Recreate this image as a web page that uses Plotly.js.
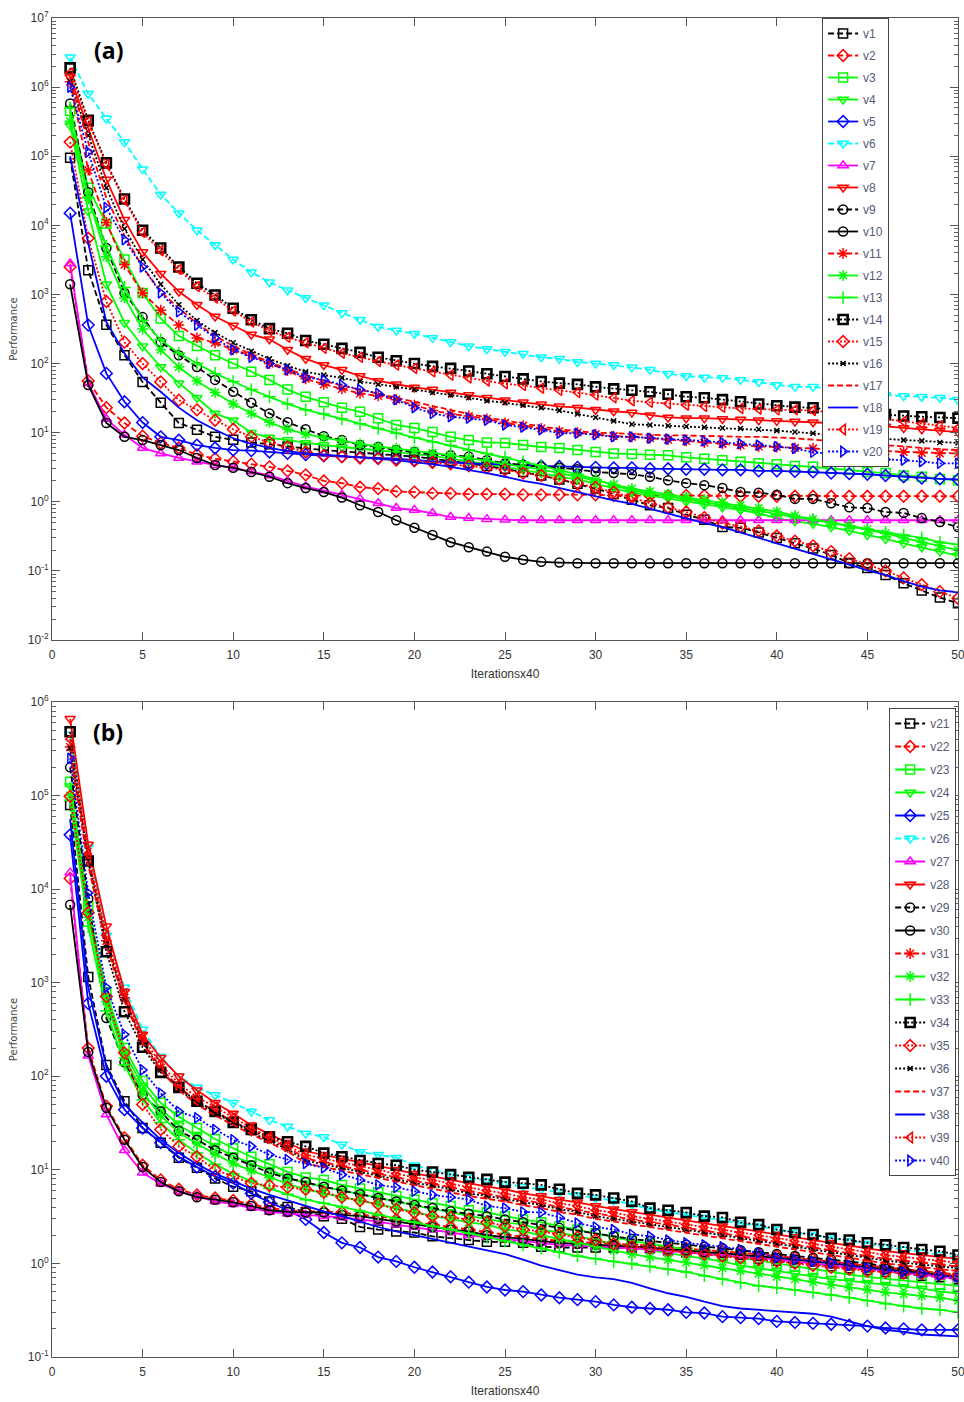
<!DOCTYPE html>
<html><head><meta charset="utf-8">
<script src="https://cdn.plot.ly/plotly-3.0.1.min.js"></script>
<style>html,body{margin:0;padding:0;background:#fff}#chart{width:964px;height:1402px}</style>
</head><body><div id="chart"></div>
<script>
const iterations = [1,2,3,4,5,6,7,8,9,10,11,12,13,14,15,16,17,18,19,20,21,22,23,24,25,26,27,28,29,30,31,32,33,34,35,36,37,38,39,40,41,42,43,44,45,46,47,48,49,50];
const xTicks = [0,5,10,15,20,25,30,35,40,45,50];
const yTicksTop = [1e-2,1e-1,1,10,100,1e3,1e4,1e5,1e6,1e7];
const yTickTextTop = ['10<sup>-2</sup>','10<sup>-1</sup>','10<sup>0</sup>','10<sup>1</sup>','10<sup>2</sup>','10<sup>3</sup>','10<sup>4</sup>','10<sup>5</sup>','10<sup>6</sup>','10<sup>7</sup>'];
const yTicksBot = [1e-1,1,10,100,1e3,1e4,1e5,1e6];
const yTickTextBot = ['10<sup>-1</sup>','10<sup>0</sup>','10<sup>1</sup>','10<sup>2</sup>','10<sup>3</sup>','10<sup>4</sup>','10<sup>5</sup>','10<sup>6</sup>'];

// ---- panel (a) ----
const v1 = [9.5e4,2240,363,132,54,27,13.8,11,8.7,7.9,7.2,6.8,6.3,5.9,5.6,5.4,5.1,4.9,4.7,4.5,4.2,3.9,3.6,3.3,3.0,2.7,2.4,2.1,1.82,1.55,1.29,1.07,0.89,0.81,0.65,0.55,0.43,0.42,0.36,0.30,0.25,0.21,0.17,0.13,0.11,0.087,0.066,0.052,0.041,0.034];
const v2 = [2500,56,23,13.8,8.9,7.1,6.0,4.8,4.2,3.8,3.5,3.2,2.8,2.45,2.0,1.86,1.62,1.55,1.41,1.38,1.32,1.32,1.29,1.29,1.29,1.26,1.26,1.26,1.26,1.26,1.23,1.23,1.23,1.23,1.23,1.23,1.2,1.2,1.2,1.2,1.2,1.2,1.2,1.2,1.2,1.2,1.2,1.2,1.2,1.2];
const v3 = [4.5e5,3.5e4,1.05e4,3200,1050,450,250,180,132,100,76,58,42,33,27.5,23,20,16.2,12.9,11.7,10.2,8.7,7.8,7.2,7.1,6.6,6.2,6.0,5.6,5.25,5.0,4.9,4.8,4.7,4.4,4.2,4.0,3.8,3.6,3.5,3.3,3.2,3.0,2.9,2.7,2.6,2.4,2.3,2.14,2.04];
const v4 = [2.8e5,1.6e4,1400,390,178,89,52,32,19,15.1,10,8.5,7.8,7.1,6.6,6.2,5.9,5.5,5.25,4.9,4.6,4.2,3.8,3.5,3.2,2.9,2.6,2.3,2.1,1.82,1.58,1.35,1.23,1.12,1.0,0.91,0.83,0.76,0.68,0.58,0.52,0.48,0.43,0.38,0.33,0.29,0.25,0.22,0.19,0.166];
const v5 = [1.5e4,360,72,28,14,8.7,7.8,6.6,6.0,5.6,5.5,5.25,5.0,4.8,4.6,4.5,4.4,4.3,4.2,4.0,3.8,3.7,3.6,3.55,3.45,3.4,3.3,3.25,3.15,3.15,3.1,3.1,3.0,3.0,2.95,2.95,2.9,2.9,2.8,2.8,2.75,2.7,2.6,2.55,2.5,2.4,2.3,2.2,2.15,2.1];
const v6 = [2.7e6,8e5,3.5e5,1.6e5,6.5e4,2.8e4,1.5e4,8500,5200,3200,2100,1500,1150,890,700,540,430,340,300,270,235,205,178,162,148,138,123,117,105,100,95,88,81,71,66,63,62,58,54,49,46,46,43,40,37,35,34,33,32,30];
const v7 = [2800,52,15.8,9.3,6.0,5.0,4.3,3.8,3.4,3.1,2.75,2.4,2.0,1.66,1.45,1.26,1.1,0.95,0.81,0.76,0.68,0.60,0.58,0.56,0.55,0.54,0.54,0.54,0.54,0.54,0.54,0.54,0.54,0.54,0.54,0.54,0.54,0.54,0.54,0.54,0.54,0.54,0.54,0.54,0.54,0.54,0.54,0.54,0.54,0.54];
const v8 = [1.4e6,2.6e5,4.6e4,1.2e4,4100,2000,1100,710,480,355,263,224,158,117,95,81,66,56,50,45,42,38,35,32,29.5,27.5,25.7,24,23,21.4,20.4,19.5,17.8,16.6,16.2,16.2,15.8,15.5,15.1,14.8,14.5,14.1,13.8,13.2,12.9,12.3,11.7,11.2,10.7,10.2];
const v9 = [5.8e5,3e4,4700,1050,470,205,132,89,58,39,27,19,14.1,11.2,8.9,7.8,6.6,6.2,5.6,5.25,4.8,4.7,4.5,4.0,3.6,3.4,3.2,3.1,2.95,2.7,2.6,2.5,2.3,2.04,1.86,1.74,1.58,1.38,1.35,1.26,1.1,1.1,0.95,0.83,0.81,0.71,0.69,0.58,0.51,0.43];
const v10 = [1400,49,13.8,8.7,7.8,6.6,5.6,4.3,3.4,3.1,2.7,2.3,1.86,1.58,1.38,1.15,0.89,0.71,0.54,0.42,0.33,0.26,0.22,0.19,0.16,0.145,0.135,0.132,0.129,0.129,0.129,0.129,0.129,0.129,0.129,0.129,0.129,0.129,0.129,0.129,0.129,0.129,0.129,0.129,0.129,0.129,0.129,0.129,0.129,0.129];
const v11 = [1.2e6,6.3e4,1.1e4,2700,1050,590,360,235,200,158,132,100,79,60,50,43,37,34,30,25,21,18.6,17.4,15.8,13.8,12.6,11.5,10.5,10,9.5,8.9,8.7,8.3,7.9,7.6,7.2,6.9,6.6,6.3,6.2,6.0,5.9,5.75,5.6,5.5,5.4,5.25,5.1,5.0,5.0];
const v12 = [3.2e5,2.6e4,3500,890,316,158,89,56,38,26,19,14.1,11.2,9.5,8.5,7.6,6.9,6.3,5.9,5.5,5.1,4.7,4.3,3.9,3.5,3.2,2.95,2.6,2.3,2.0,1.78,1.55,1.41,1.29,1.17,1.07,0.98,0.89,0.81,0.72,0.63,0.56,0.50,0.45,0.40,0.35,0.30,0.26,0.23,0.20];
const v13 = [5e5,2.5e4,5000,1260,420,220,141,100,72,55,42,33,26,21.4,18.6,15.8,13.5,11.5,9.8,8.5,7.4,6.5,5.6,5.0,4.4,3.8,3.3,2.9,2.5,2.1,1.74,1.45,1.32,1.2,1.1,1.0,0.91,0.83,0.74,0.66,0.60,0.55,0.50,0.45,0.40,0.36,0.33,0.30,0.26,0.24];
const v14 = [1.9e6,3.3e5,8e4,2.4e4,8500,4700,2500,1450,980,630,430,320,275,215,190,166,145,123,110,100,91,85,78,71,65,60,55,52,50,46,43,41,39,36,33,32,30,28,26,24.5,23.4,22.9,21.4,20,19,18.2,17.4,17,16.6,16.2];
const v15 = [1.6e5,6500,790,204,100,54,29.5,21.4,15.1,11.2,8.7,7.2,6.2,5.25,4.7,4.5,4.3,4.2,4.0,3.9,3.7,3.55,3.3,3.1,2.9,2.6,2.4,2.14,1.86,1.62,1.38,1.15,0.95,0.83,0.71,0.59,0.49,0.44,0.38,0.32,0.27,0.23,0.19,0.15,0.123,0.1,0.079,0.063,0.05,0.04];
const v16 = [1.2e6,2e5,3.5e4,8900,3200,1400,710,420,280,200,151,117,93,76,68,62,55,50,46,42,38,35,32,29,27,25,23,21,18.6,16.6,14.8,13.2,12.9,12.6,12.3,12,11.7,11.5,11.2,10.7,10.2,9.8,9.3,8.9,8.5,8.1,7.8,7.6,7.2,7.1];
const v17 = [1.26e6,1.6e5,2.5e4,7100,2500,1100,630,380,250,180,135,105,83,68,56,48,42,36,32,27.5,24,21,18.6,16.6,14.8,13.5,12.3,11.2,10.5,10,9.8,9.5,9.3,9.1,9.1,8.9,8.9,8.7,8.7,8.5,8.3,7.9,7.6,7.2,6.9,6.6,6.3,6.0,5.75,5.6];
const v18 = [1e5,5500,400,141,63,39,23,15.1,11,8.3,6.9,6.0,5.4,5.0,4.8,4.6,4.4,4.2,4.0,3.7,3.5,3.2,2.9,2.6,2.3,2.0,1.82,1.58,1.38,1.2,1.05,0.93,0.79,0.68,0.58,0.49,0.43,0.355,0.30,0.25,0.21,0.178,0.148,0.123,0.102,0.087,0.071,0.059,0.052,0.049];
const v19 = [1.6e6,3.2e5,7.6e4,2.3e4,7900,4300,2300,1300,890,575,400,300,240,200,166,141,123,107,95,85,76,68,62,56,51,48,44,41,38,35,32,29,27.5,26.3,25,24,23.4,22.4,21.9,21.4,21.4,20.9,19.5,18.2,16.6,15.5,14.5,13.5,12.6,11.7];
const v20 = [1e6,1.15e5,1.8e4,6200,2500,1050,560,360,235,158,123,100,81,63,58,49,42,37,30,23,19,17,16.2,15.1,12.9,12,11,9.8,9.8,9.3,8.7,8.7,8.3,8.1,7.8,7.6,7.2,6.9,6.6,6.3,5.9,5.2,4.9,4.6,4.3,4.1,4.0,3.8,3.6,3.6];

// ---- panel (b) ----
const v21 = [7.9e4,1150,132,54,28,19.5,13.5,10.5,8.1,6.6,5.9,4.6,4.0,3.55,3.2,3.0,2.45,2.3,2.2,2.14,1.95,1.86,1.78,1.7,1.7,1.66,1.51,1.48,1.48,1.48,1.48,1.48,1.45,1.38,1.32,1.26,1.2,1.15,1.12,1.07,1.02,0.98,0.93,0.89,0.85,0.81,0.78,0.74,0.71,0.68];
const v22 = [1.3e4,200,48,22,11.2,7.8,6.2,5.4,5.0,4.7,4.3,3.9,3.7,3.6,3.6,3.5,3.3,3.2,2.95,2.75,2.6,2.45,2.3,2.14,2.0,1.91,1.82,1.74,1.7,1.66,1.62,1.58,1.55,1.48,1.45,1.38,1.35,1.29,1.26,1.2,1.15,1.1,1.05,1.0,0.95,0.91,0.87,0.83,0.79,0.76];
const v23 = [1.4e5,6500,790,200,89,52,37,28,21.4,17,13.8,11.5,9.5,8.3,7.8,6.9,6.3,5.75,5.25,4.8,4.4,4.1,3.7,3.5,3.2,2.95,2.75,2.5,2.3,2.1,1.91,1.74,1.62,1.51,1.41,1.32,1.23,1.15,1.07,1.0,0.93,0.87,0.81,0.76,0.72,0.69,0.66,0.63,0.6,0.575];
const v24 = [1.26e5,5600,710,178,79,45,30,23,17.8,14.1,11.7,10,8.3,7.2,6.6,6.0,5.5,5.0,4.6,4.2,3.8,3.55,3.2,3.0,2.75,2.6,2.3,2.14,1.95,1.78,1.62,1.48,1.38,1.29,1.2,1.12,1.05,0.95,0.89,0.83,0.78,0.72,0.68,0.65,0.62,0.59,0.56,0.54,0.50,0.48];
const v25 = [3.8e4,600,100,44,28,19.5,13.8,10.7,8.5,7.2,5.6,4.5,3.7,2.95,2.14,1.66,1.48,1.17,1.05,0.91,0.81,0.72,0.63,0.56,0.52,0.50,0.46,0.43,0.41,0.39,0.36,0.34,0.33,0.32,0.30,0.295,0.27,0.263,0.257,0.24,0.234,0.229,0.224,0.219,0.214,0.204,0.2,0.195,0.195,0.195];
const v26 = [4.5e5,2.8e4,3200,890,316,162,100,76,63,52,42,34,29,24.5,22.4,18.6,15.5,14.5,13.5,11.2,10,9.1,8.3,7.6,7.1,6.6,6.2,5.75,5.4,5.0,4.7,4.3,3.8,3.55,3.3,3.1,2.9,2.7,2.5,2.3,2.14,2.0,1.86,1.74,1.62,1.51,1.41,1.32,1.23,1.15];
const v27 = [1.5e4,166,39,16.2,9.3,7.1,5.9,5.25,4.6,4.3,3.9,3.55,3.4,3.3,3.2,3.1,2.95,2.8,2.6,2.45,2.3,2.14,2.0,1.91,1.82,1.74,1.66,1.58,1.55,1.51,1.48,1.45,1.41,1.35,1.32,1.26,1.23,1.17,1.15,1.1,1.05,1.0,0.95,0.91,0.87,0.83,0.79,0.76,0.72,0.69];
const v28 = [6.6e5,3e4,4000,800,280,158,100,71,52,40,30,24,19.5,15.8,14.5,13.2,12,11,10,9.1,8.5,7.8,7.1,6.6,6.2,5.6,5.25,4.8,4.5,4.1,3.8,3.55,3.3,3.1,2.9,2.7,2.5,2.35,2.2,2.04,1.91,1.78,1.66,1.55,1.45,1.35,1.29,1.23,1.17,1.12];
const v29 = [2e5,7900,420,141,63,42,26,21,16.2,13.5,11.2,9.3,8.1,7.4,6.6,6.0,5.5,5.0,4.6,4.2,3.9,3.6,3.4,3.2,2.95,2.75,2.6,2.4,2.24,2.1,1.95,1.82,1.74,1.66,1.58,1.51,1.45,1.38,1.32,1.26,1.2,1.15,1.1,1.05,1.0,0.93,0.87,0.81,0.76,0.71];
const v30 = [6800,182,46,21,10.7,7.4,5.9,5.1,4.8,4.5,4.1,3.7,3.55,3.5,3.5,3.3,3.2,3.0,2.8,2.6,2.45,2.3,2.2,2.0,1.91,1.82,1.74,1.66,1.62,1.58,1.55,1.51,1.48,1.41,1.38,1.32,1.29,1.23,1.2,1.15,1.1,1.05,1.0,0.95,0.91,0.87,0.83,0.79,0.76,0.72];
const v31 = [3.3e5,2.2e4,2800,690,240,123,76,55,42,33,26,21.4,17.4,13.2,12,11,10,9.1,8.3,7.6,7.1,6.5,5.9,5.5,5.1,4.7,4.4,4.0,3.7,3.4,3.2,2.95,2.75,2.6,2.4,2.24,2.1,1.95,1.82,1.7,1.58,1.48,1.38,1.29,1.2,1.12,1.07,1.02,0.98,0.93];
const v32 = [1e5,5000,630,158,68,38,25,19,14.8,11.7,9.8,8.3,7.1,6.2,5.6,5.1,4.7,4.3,3.9,3.55,3.2,3.0,2.75,2.6,2.3,2.2,2.0,1.82,1.66,1.51,1.38,1.26,1.17,1.1,1.02,0.95,0.89,0.83,0.78,0.72,0.68,0.63,0.59,0.55,0.52,0.49,0.47,0.45,0.43,0.40];
const v33 = [8.9e4,4000,500,132,56,32,21,15.1,11.5,9.1,7.6,6.3,5.5,4.8,4.4,4.0,3.6,3.3,3.0,2.75,2.5,2.3,2.1,1.91,1.74,1.58,1.45,1.32,1.2,1.12,1.05,1.0,0.93,0.87,0.81,0.74,0.68,0.62,0.575,0.55,0.52,0.49,0.46,0.43,0.40,0.37,0.35,0.33,0.32,0.30];
const v34 = [4.8e5,2e4,2140,490,204,110,76,54,42,32,27,22.4,20,17.8,15.1,13.8,12.6,11.7,11.2,10,9.5,8.9,8.3,7.9,7.4,7.2,6.9,6.2,5.6,5.4,5.0,4.6,3.9,3.7,3.5,3.2,3.1,2.75,2.6,2.3,2.14,2.04,1.86,1.78,1.66,1.58,1.48,1.41,1.35,1.23];
const v35 = [9.8e4,5600,710,178,50,27,17.8,13.8,10,8.5,7.2,6.8,6.5,6.2,5.75,5.1,4.7,4.3,3.8,3.5,3.2,3.1,2.95,2.75,2.5,2.3,2.2,2.04,1.91,1.78,1.62,1.51,1.45,1.38,1.32,1.26,1.2,1.15,1.1,1.05,1.0,0.95,0.91,0.87,0.83,0.81,0.79,0.78,0.76,0.74];
const v36 = [3.2e5,2e4,2600,660,230,117,72,52,40,32,25,20.4,16.6,12.6,11.5,10.5,9.5,8.7,7.9,7.2,6.8,6.2,5.6,5.25,4.9,4.5,4.2,3.8,3.55,3.2,3.0,2.8,2.6,2.45,2.3,2.14,2.0,1.86,1.74,1.62,1.51,1.41,1.32,1.23,1.15,1.07,1.02,0.98,0.93,0.89];
const v37 = [2.8e5,1.8e4,2500,630,224,115,71,50,38,30,24,19.5,15.8,11.7,10.7,9.8,8.9,8.1,7.4,6.8,6.3,5.75,5.25,4.9,4.6,4.2,3.9,3.55,3.3,3.0,2.8,2.6,2.45,2.3,2.14,2.0,1.86,1.74,1.62,1.51,1.41,1.32,1.23,1.15,1.07,1.0,0.95,0.91,0.87,0.83];
const v38 = [5.6e4,890,126,50,32,21,15.1,11.5,9.1,7.6,6.3,5.4,4.7,4.1,3.6,3.2,2.8,2.45,2.2,2.0,1.82,1.66,1.51,1.38,1.26,1.1,0.95,0.85,0.76,0.71,0.68,0.62,0.54,0.48,0.44,0.39,0.35,0.33,0.32,0.31,0.30,0.29,0.27,0.24,0.214,0.195,0.186,0.174,0.17,0.166];
const v39 = [4e5,2.4e4,3200,760,263,135,83,60,47,36,28,22.4,18.2,14.5,13.2,12,11,10,9.1,8.3,7.8,7.1,6.5,6.0,5.6,5.1,4.8,4.4,4.1,3.7,3.5,3.2,3.0,2.8,2.6,2.45,2.3,2.14,2.0,1.86,1.74,1.62,1.51,1.41,1.32,1.23,1.17,1.12,1.07,1.02];
const v40 = [2.5e5,9100,890,280,117,66,42,36,27,21,17.8,14.5,12.9,11.7,10.5,8.9,7.8,6.9,6.5,5.9,5.4,5.1,4.8,4.1,3.9,3.55,3.5,3.1,2.7,2.45,2.3,2.04,1.95,1.78,1.66,1.58,1.51,1.41,1.29,1.15,1.1,1.05,1.02,0.95,0.89,0.85,0.81,0.79,0.74,0.72];

const seriesA = [v1,v2,v3,v4,v5,v6,v7,v8,v9,v10,v11,v12,v13,v14,v15,v16,v17,v18,v19,v20];
const seriesB = [v21,v22,v23,v24,v25,v26,v27,v28,v29,v30,v31,v32,v33,v34,v35,v36,v37,v38,v39,v40];

const K='#000000', R='#ff0000', G='#00ff00', B='#0000ff', C='#00ffff', M='#ff00ff';
const DASH='6px,3px', DOT='2px,2px';
const styles = [
 {c:K, d:DASH, s:'square-open'},
 {c:R, d:DASH, s:'diamond-open'},
 {c:G, d:'solid', s:'square-open'},
 {c:G, d:'solid', s:'triangle-down-open'},
 {c:B, d:'solid', s:'diamond-open'},
 {c:C, d:DASH, s:'triangle-down-open'},
 {c:M, d:'solid', s:'triangle-up-open'},
 {c:R, d:'solid', s:'triangle-down-open'},
 {c:K, d:DASH, s:'circle-open'},
 {c:K, d:'solid', s:'circle-open'},
 {c:R, d:DASH, s:'asterisk-open'},
 {c:G, d:'solid', s:'asterisk-open'},
 {c:G, d:'solid', s:'cross-thin-open'},
 {c:K, d:DOT, s:'square-open', bold:true},
 {c:R, d:DOT, s:'diamond-open'},
 {c:K, d:DOT, s:'x-thin-open', small:true},
 {c:R, d:DASH, s:null},
 {c:B, d:'solid', s:null},
 {c:R, d:DOT, s:'triangle-left-open'},
 {c:B, d:DOT, s:'triangle-right-open'}
];

function makeTrace(vals, i, panel){
  const st = styles[i];
  const n = panel === 0 ? i + 1 : i + 21;
  const t = {
    type:'scatter', x: iterations, y: vals, name: 'v' + n,
    xaxis: panel === 0 ? 'x' : 'x2', yaxis: panel === 0 ? 'y' : 'y2',
    legend: panel === 0 ? 'legend' : 'legend2',
    legendgroup: 'g' + n,
    mode: st.s ? 'lines+markers' : 'lines',
    line: {color: st.c, width: 1.8, dash: st.d},
    cliponaxis: true
  };
  if (st.s) {
    t.marker = {symbol: st.s, size: st.small ? 5 : 9, color: st.c,
      line: {color: st.c, width: st.bold ? 2.6 : 1.5}};
  }
  return t;
}

const traces = [];
seriesA.forEach((v,i)=>traces.push(makeTrace(v,i,0)));
seriesB.forEach((v,i)=>traces.push(makeTrace(v,i,1)));

const F = 'Liberation Sans Narrow, Arial Narrow, Liberation Sans, Arial, sans-serif';
const axisCommon = {
  showline:true, linecolor:'#555', linewidth:1, mirror:'ticks',
  ticks:'inside', ticklen:8, tickcolor:'#555', tickwidth:1,
  showgrid:false, zeroline:false, ticklabeloverflow:'allow',
  tickfont:{family:F, size:12, color:'#333'}
};
const xTitle = {text:'Iterationsx40', font:{family:F, size:12, color:'#333'}, standoff:8};
const yTitle = {text:'Performance', font:{family:'DejaVu Sans, sans-serif', size:10, color:'#444'}, standoff:8};
const minorY = {ticks:'inside', ticklen:4, tickcolor:'#666', tickwidth:1, dtick:'D1', showgrid:false};

const legendCommon = {
  bgcolor:'#ffffff', bordercolor:'#444', borderwidth:1,
  font:{family:F, size:12, color:'#555a78'},
  itemwidth:30, xanchor:'left', yanchor:'top'
};

const layout = {
  width:964, height:1402,
  margin:{l:52, r:6, t:18, b:45},
  paper_bgcolor:'#ffffff', plot_bgcolor:'#ffffff',
  showlegend:true,
  xaxis: Object.assign({}, axisCommon, {domain:[0,1], anchor:'y', range:[0,50], tickmode:'array', tickvals:xTicks, ticklabelstandoff:4, title:xTitle}),
  yaxis: Object.assign({}, axisCommon, {domain:[0.5355,1], anchor:'x', type:'log', range:[-2,7], tickmode:'array', tickvals:yTicksTop, ticktext:yTickTextTop, minor:minorY, title:yTitle}),
  xaxis2: Object.assign({}, axisCommon, {domain:[0,1], anchor:'y2', range:[0,50], tickmode:'array', tickvals:xTicks, ticklabelstandoff:4, title:xTitle}),
  yaxis2: Object.assign({}, axisCommon, {domain:[0,0.4892], anchor:'x2', type:'log', range:[-1,6], tickmode:'array', tickvals:yTicksBot, ticktext:yTickTextBot, minor:minorY, title:yTitle}),
  legend: Object.assign({}, legendCommon, {x:0.85, y:1.0, tracegroupgap:3}),
  legend2: Object.assign({}, legendCommon, {x:0.924, y:0.4847, tracegroupgap:4}),
  annotations:[
    {xref:'paper', yref:'paper', x:0.062, y:0.976, xanchor:'center', yanchor:'middle', text:'<b>(a)</b>', showarrow:false, font:{family:'Open Sans, sans-serif', size:23, color:'#000'}},
    {xref:'paper', yref:'paper', x:0.062, y:0.4668, xanchor:'center', yanchor:'middle', text:'<b>(b)</b>', showarrow:false, font:{family:'Open Sans, sans-serif', size:23, color:'#000'}}
  ]
};

Plotly.newPlot('chart', traces, layout, {displayModeBar:false, staticPlot:true});
</script>
</body></html>
